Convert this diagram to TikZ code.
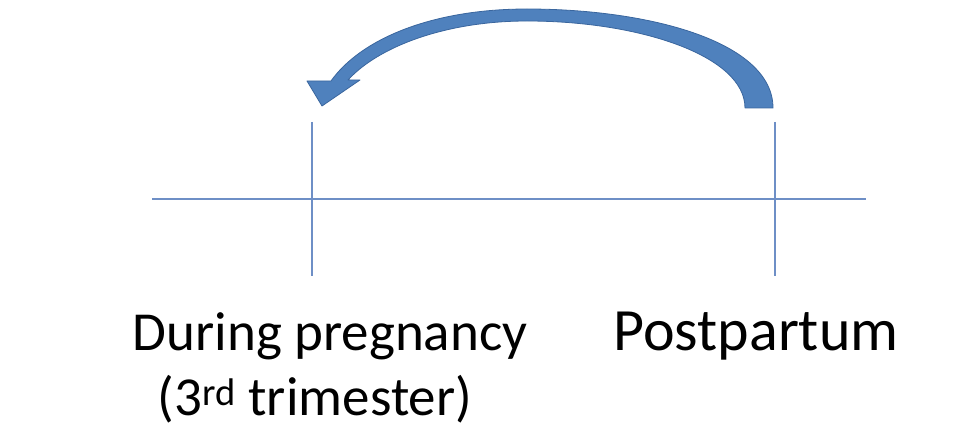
\documentclass[tikz,border=0pt]{standalone}
\usepackage{fontspec}
\setmainfont{Carlito}
\definecolor{arrowfill}{HTML}{4F81BD}
\definecolor{arrowedge}{HTML}{3A669E}
\definecolor{axis}{HTML}{6E8FC6}
\begin{document}
\begin{tikzpicture}[x=1pt,y=-1pt,
  axisline/.style={draw=axis,line width=1.6pt},
  label/.style={font=\fontsize{55}{65}\selectfont,inner sep=0pt,anchor=base},
  biglabel/.style={font=\fontsize{60}{70}\selectfont,inner sep=0pt,anchor=base}]
\useasboundingbox (0,0) rectangle (967,441);
% axes
\coordinate (hl) at (152,199);
\coordinate (hr) at (866,199);
\coordinate (v1t) at (312,122);
\coordinate (v1b) at (312,276);
\coordinate (v2t) at (775,122);
\coordinate (v2b) at (775,276);
\draw[axisline] (hl) -- (hr);
\draw[axisline] (v1t) -- (v1b);
\draw[axisline] (v2t) -- (v2b);
% curved block arrow
\filldraw[fill=arrowfill,draw=arrowedge,line width=0.8pt,line join=round]
  (773,108) .. controls (773,42) and (650,9) .. (527,9)
  .. controls (430,9) and (360,40) .. (331,81)
  -- (307,81) -- (322,106) -- (360,80) -- (348,80)
  .. controls (378,47) and (445,21) .. (527,21)
  .. controls (640,21) and (745,56) .. (745,108) -- cycle;
% labels
\node[label] (preg) at (330,350) {During pregnancy};
\node[label] (tri) at (315,415) {(3\textsuperscript{rd} trimester)};
\node[biglabel] (post) at (756,350) {Postpartum};
\end{tikzpicture}
\end{document}
